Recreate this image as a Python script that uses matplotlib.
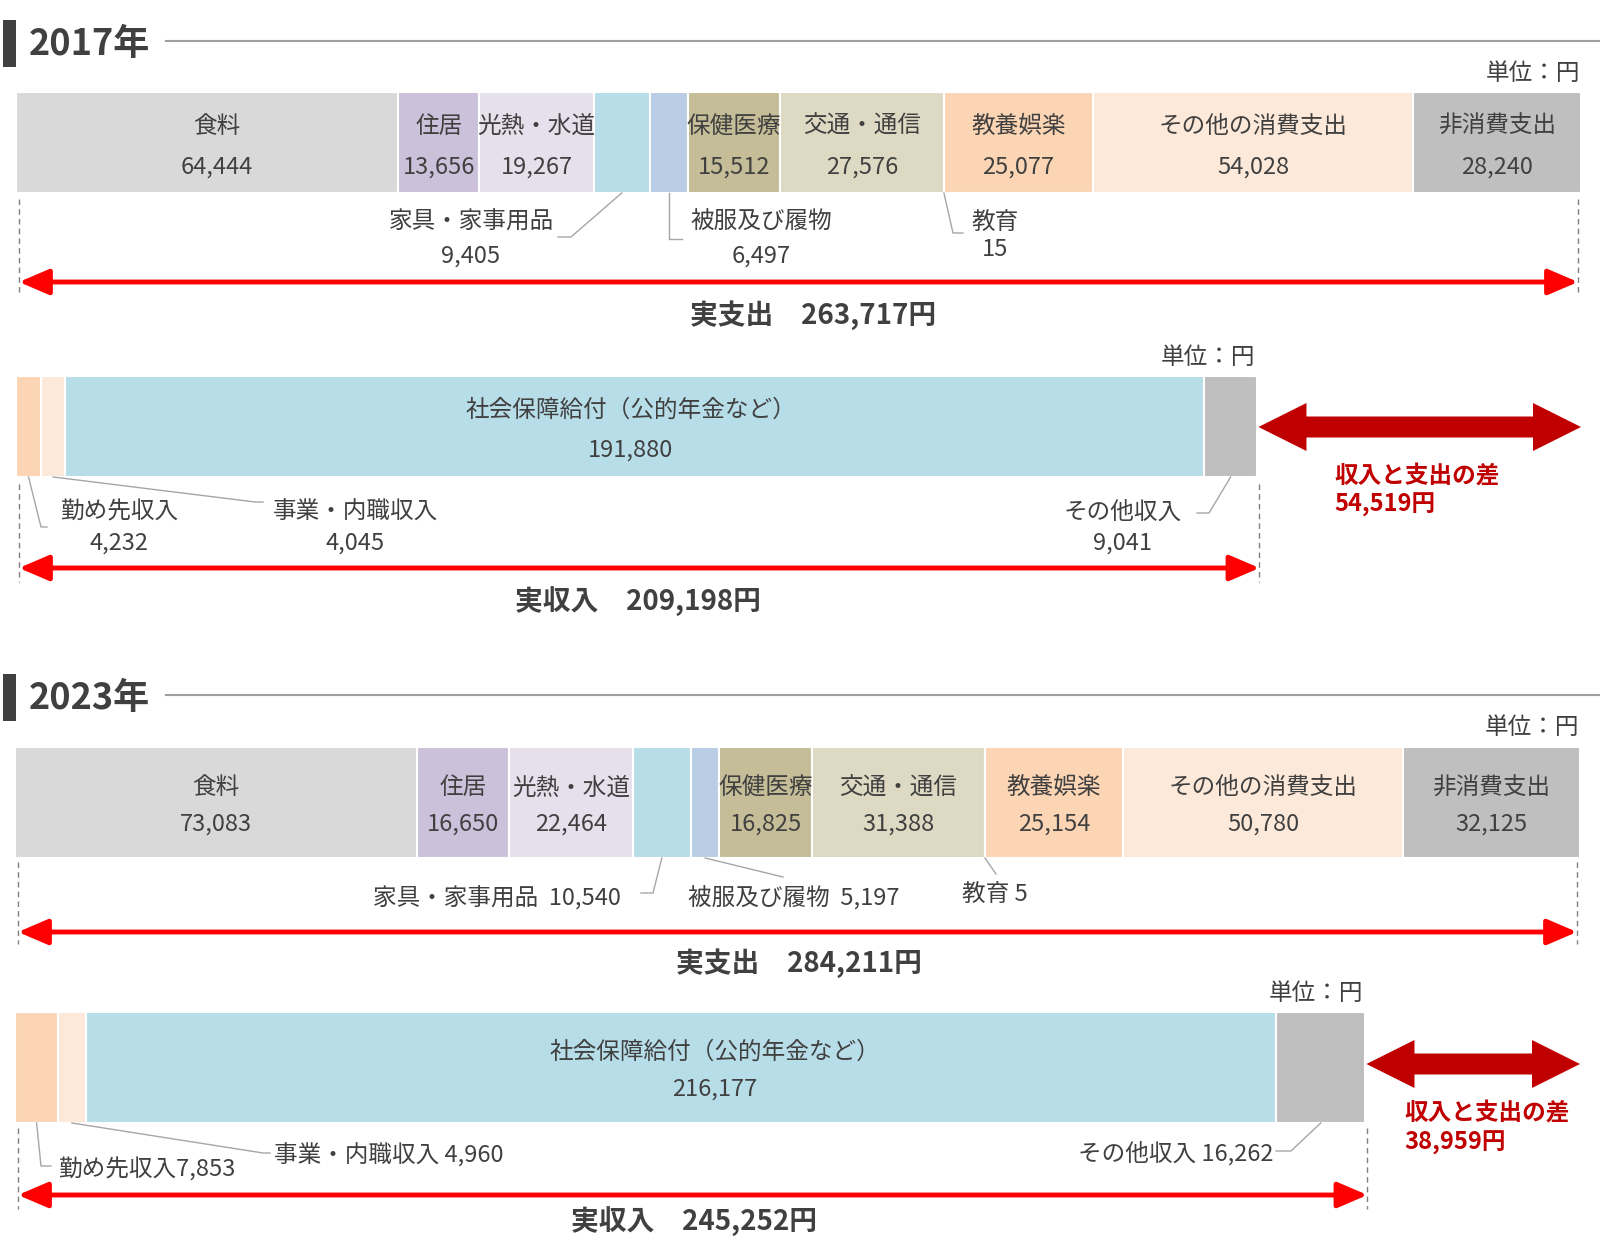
import numpy as np
import matplotlib
matplotlib.use('Agg')
import matplotlib.pyplot as plt
from matplotlib.patches import Polygon, Rectangle

plt.rcParams['font.family'] = ['Noto Sans CJK JP', 'DejaVu Sans']

# ---- data ----
years = ['2017年', '2023年']

exp_names = ['食料', '住居', '光熱・水道', '家具・家事用品', '被服及び履物', '保健医療',
             '交通・通信', '教育', '教養娯楽', 'その他の消費支出', '非消費支出']
exp_colors = ['#d9d9d9', '#ccc1da', '#e6e0ec', '#b7dde8', '#b9cde5', '#c4bd97',
              '#ddd9c3', '#fcd5b5', '#fcd5b5', '#fde9d9', '#bfbfbf']
exp_2017 = [64444, 13656, 19267, 9405, 6497, 15512, 27576, 15, 25077, 54028, 28240]
exp_2023 = [73083, 16650, 22464, 10540, 5197, 16825, 31388, 5, 25154, 50780, 32125]

inc_names = ['勤め先収入', '事業・内職収入', '社会保障給付（公的年金など）', 'その他収入']
inc_colors = ['#fcd5b5', '#fde9d9', '#b7dde8', '#bfbfbf']
inc_2017 = [4232, 4045, 191880, 9041]
inc_2023 = [7853, 4960, 216177, 16262]

exp_inside = [0, 1, 2, 5, 6, 8, 9, 10]
inc_inside = [2]

TXT = '#404040'
LEAD = '#a6a6a6'
RED = '#ff0000'
DARKRED = '#c00000'
W, H = 1600, 1240
TY = 2  # small downward nudge for text baselines

fig = plt.figure(figsize=(16, 12.4), dpi=100)
fig.patch.set_facecolor('white')
bg = fig.add_axes([0, 0, 1, 1])
bg.set_xlim(0, W)
bg.set_ylim(H, 0)
bg.axis('off')
bg.set_zorder(5)


def px(ax, v):
    return bg.transData.inverted().transform(ax.transData.transform((v, 0)))[0]


def label(x, y, s, **kw):
    kw.setdefault('fontsize', 17)
    kw.setdefault('color', TXT)
    kw.setdefault('va', 'center')
    bg.text(x, y + TY, s, **kw)


def stacked(x0, y0, w, h, vals, colors, total):
    ax = fig.add_axes([x0 / W, 1 - (y0 + h) / H, w / W, h / H])
    ax.set_xlim(0, total)
    ax.set_ylim(0, 1)
    ax.axis('off')
    left = np.concatenate([[0], np.cumsum(vals)[:-1]])
    ax.barh(0.5, vals, left=left, height=1, color=colors,
            edgecolor='white', linewidth=1.5)
    mids = [px(ax, l + v / 2) for l, v in zip(left, vals)]
    return ax, mids, (px(ax, 0), px(ax, sum(vals)))


def leader(x, ytop, pts):
    xs = [x] + [x if p[0] is None else p[0] for p in pts]
    ys = [ytop] + [p[1] for p in pts]
    bg.plot(xs, ys, color=LEAD, lw=1)


def span_arrow(xa, xb, ytop, ybot, ya):
    for x in (xa, xb):
        bg.plot([x, x], [ytop, ybot], color='#808080', lw=1, dashes=(4, 3))
    bg.annotate('', xy=(xb, ya), xytext=(xa, ya),
                arrowprops=dict(arrowstyle='<|-|>,head_length=1.4,head_width=0.6',
                                mutation_scale=13, color=RED, lw=3.5,
                                shrinkA=0, shrinkB=0))


def fat_arrow(x0, x1, c, L=48, Hh=24, B=10.5):
    verts = [(x0, c), (x0 + L, c - Hh), (x0 + L, c - B), (x1 - L, c - B),
             (x1 - L, c - Hh), (x1, c), (x1 - L, c + Hh), (x1 - L, c + B),
             (x0 + L, c + B), (x0 + L, c + Hh)]
    bg.add_patch(Polygon(verts, closed=True, color=DARKRED, lw=0))


def draw_year(i, exp, inc, L):
    exp_total = sum(exp)
    inc_total = sum(inc)

    # header
    hy = L['head']
    bg.add_patch(Rectangle((3, hy - 23.5), 13, 47, color=TXT, lw=0))
    label(29, hy, years[i], fontsize=26, fontweight='bold', ha='left')
    bg.plot([166, W], [hy - 2, hy - 2], color='#a0a0a0', lw=1.5)

    # expenditure bar
    x0, x1 = L['bar_x']
    ey0, eh = L['exp_bar']
    label(x1 - 1, L['unit1'], '単位：円', ha='right')
    ax, mids, ends = stacked(x0, ey0, x1 - x0, eh, exp, exp_colors, exp_total)
    fn, fv = L['exp_frac']
    for k in exp_inside:
        xm = mids[k] + L['exp_dx'].get(k, 0)
        label(xm, ey0 + (1 - fn) * eh, exp_names[k], ha='center')
        label(xm, ey0 + (1 - fv) * eh, f'{exp[k]:,}', ha='center')
    for k, pts, texts in L['exp_out']:
        leader(mids[k], ey0 + eh, pts)
        for tx, ty, fmt, ha in texts:
            label(tx, ty, fmt.format(n=exp_names[k], v=f'{exp[k]:,}'), ha=ha)
    a, b, ya = L['exp_arrow']
    span_arrow(ends[0] + 3, ends[1] - 3, a, b, ya)
    tx, ty = L['exp_total']
    label(tx, ty, f'実支出　{exp_total:,}円', fontsize=20, fontweight='bold', ha='center')

    # income bar
    iy0, ih = L['inc_bar']
    ax2, imids, iends = stacked(x0, iy0, x1 - x0, ih, inc, inc_colors, exp_total)
    label(iends[1] - 2, L['unit2'], '単位：円', ha='right')
    fn, fv = L['inc_frac']
    for k in inc_inside:
        xm = imids[k] + L['inc_dx']
        label(xm, iy0 + (1 - fn) * ih, inc_names[k], ha='center')
        label(xm, iy0 + (1 - fv) * ih, f'{inc[k]:,}', ha='center')
    for k, pts, texts in L['inc_out']:
        leader(imids[k], iy0 + ih, pts)
        for tx, ty, fmt, ha in texts:
            label(tx, ty, fmt.format(n=inc_names[k], v=f'{inc[k]:,}'), ha=ha)
    a, b, ya = L['inc_arrow']
    span_arrow(iends[0] + 3, iends[1] + 2, a, b, ya)
    tx, ty = L['inc_total']
    label(tx, ty, f'実収入　{inc_total:,}円', fontsize=20, fontweight='bold', ha='center')

    # difference
    fat_arrow(iends[1] + 1, ends[1], L['diff_y'])
    dx, dy1, dy2 = L['diff_text']
    label(dx, dy1, '収入と支出の差', fontweight='bold', color=DARKRED, ha='left')
    label(dx, dy2, f'{exp_total - inc_total:,}円', fontweight='bold',
          color=DARKRED, ha='left')


layout_2017 = dict(
    head=43, bar_x=(16, 1581), unit1=71, exp_bar=(92, 101), exp_frac=(0.68, 0.28),
    exp_dx={0: 10},
    exp_out=[
        (3, [(571, 237), (558, 237)], [(471, 220, '{n}', 'center'), (471, 254, '{v}', 'center')]),
        (4, [(None, 239), (682, 239)], [(761, 220, '{n}', 'center'), (761, 254, '{v}', 'center')]),
        (7, [(953, 233), (963, 233)], [(995, 220, '{n}', 'center'), (995, 248, '{v}', 'center')]),
    ],
    exp_arrow=(199, 296, 282), exp_total=(813, 313),
    unit2=356, inc_bar=(376, 101), inc_frac=(0.68, 0.29), inc_dx=-4,
    inc_out=[
        (0, [(41, 527), (47, 527)], [(119, 510, '{n}', 'center'), (119, 541, '{v}', 'center')]),
        (1, [(255, 502), (263, 502)], [(355, 510, '{n}', 'center'), (355, 541, '{v}', 'center')]),
        (3, [(1209, 513), (1197, 513)], [(1123, 510, '{n}', 'center'), (1123, 541, '{v}', 'center')]),
    ],
    inc_arrow=(484, 582, 568), inc_total=(638, 599),
    diff_y=427, diff_text=(1334, 475, 503),
)

layout_2023 = dict(
    head=697, bar_x=(15, 1580), unit1=726, exp_bar=(747, 111), exp_frac=(0.65, 0.32),
    exp_dx={},
    exp_out=[
        (3, [(653, 893), (641, 893)], [(621, 896, '{n}  {v}', 'right')]),
        (4, [(783, 877)], [(794, 896, '{n}  {v}', 'center')]),
        (7, [(996, 874)], [(995, 892, '{n} {v}', 'center')]),
    ],
    exp_arrow=(862, 944, 932), exp_total=(799, 961),
    unit2=992, inc_bar=(1012, 111), inc_frac=(0.66, 0.32), inc_dx=34,
    inc_out=[
        (0, [(41, 1166), (51, 1166)], [(58, 1168, '{n}{v}', 'left')]),
        (1, [(263, 1153), (270, 1153)], [(274, 1153, '{n} {v}', 'left')]),
        (3, [(1291, 1151), (1276, 1151)], [(1273, 1151, '{n} {v}', 'right')]),
    ],
    inc_arrow=(1128, 1209, 1195), inc_total=(694, 1219),
    diff_y=1064, diff_text=(1404, 1112, 1141),
)

draw_year(0, exp_2017, inc_2017, layout_2017)
draw_year(1, exp_2023, inc_2023, layout_2023)

fig.savefig('out.png', dpi=100, facecolor='white')
